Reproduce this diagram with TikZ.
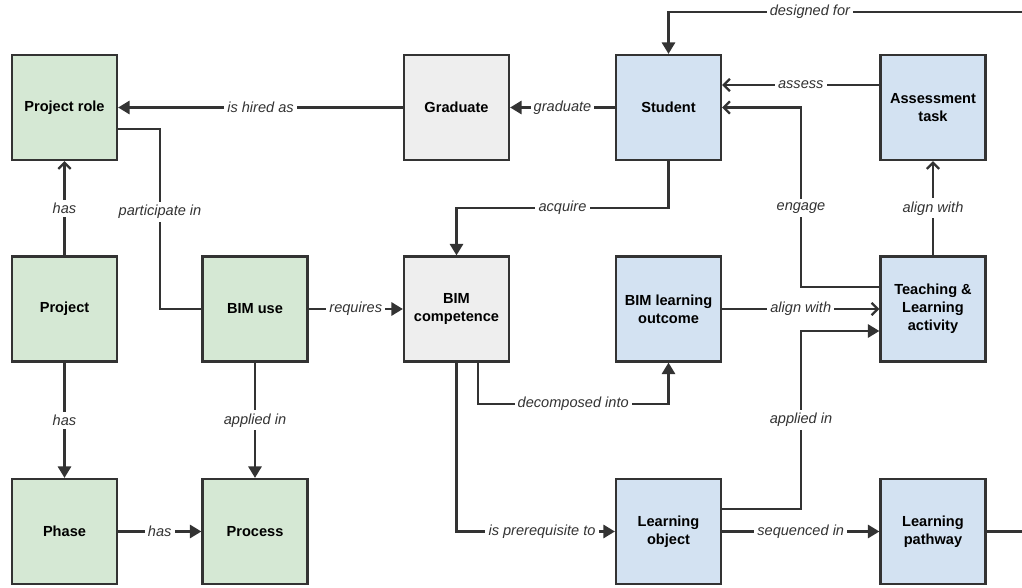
\documentclass[tikz,border=0pt]{standalone}
\usepackage{fontspec}
\setmainfont{Liberation Sans}
\usetikzlibrary{arrows.meta,positioning,calc}
\definecolor{cline}{HTML}{333333}
\definecolor{cgreen}{HTML}{D5E8D4}
\definecolor{cgrey}{HTML}{EEEEEE}
\definecolor{cblue}{HTML}{D3E2F2}

\begin{document}
\begin{tikzpicture}[
    x=0.02cm, y=-0.02cm,
    box/.style = {draw=cline, line width=1.3pt, minimum size=2.1cm, inner sep=0pt,
                  align=center, font=\fontsize{8.3}{10.2}\selectfont\bfseries},
    pg/.style = {box,fill=cgreen},
    pc/.style = {box,fill=cgrey},
    pb/.style = {box,fill=cblue},
    rel/.style = {font=\fontsize{8.3}{10}\selectfont\itshape, text=cline, fill=white, inner sep=1.8pt},
    link/.style = {draw=cline, line width=1.3pt},
    fa/.style = {link,-{Triangle[length=6.5pt,width=7.5pt]}},
    oa/.style = {link,-{Straight Barb[length=3.5pt,width=7pt]}},
    ]
    \useasboundingbox (0,0) rectangle (1022,588);
    % project side
    \node[pg] (role) at (64.5,107.5) {Project role};
    \node[pg] (project) at (64.5,309) {Project};
    \node[pg] (phase) at (64.5,531.5) {Phase};
    \node[pg] (bimuse) at (255,309) {BIM use};
    \node[pg] (process) at (255,531.5) {Process};
    % competence
    \node[pc] (grad) at (456.5,107.5) {Graduate};
    \node[pc] (comp) at (456.5,309) {BIM\\competence};
    % education side
    \node[pb] (student) at (668.5,107.5) {Student};
    \node[pb] (outcome) at (668.5,309) {BIM learning\\outcome};
    \node[pb] (lobj) at (668.5,531.5) {Learning\\object};
    \node[pb] (assess) at (933,107.5) {Assessment\\task};
    \node[pb] (tla) at (933,309) {Teaching \&\\Learning\\activity};
    \node[pb] (pathway) at (933,531.5) {Learning\\pathway};
    \coordinate (top) at (1022,12);
    \coordinate (out) at (1022,531.5);

    \path[fa] (grad) -- node[rel]{is hired as} (role);
    \path[fa] (student) -- node[rel]{graduate} (grad);
    \path[oa] (assess.west |- 0,85) -- node[rel]{assess} (student.east |- 0,85);
    \path[oa] (tla.west |- 0,287) -- (801,287) -- node[rel,pos=0.44]{engage} (801,107.5) -- (student.east);
    \path[oa] (tla) -- node[rel]{align with} (assess);
    \path[fa] (student.south) -- (668.5,208) -| node[rel,pos=0.25]{acquire} (comp.north);
    \path[link] (role.east |- 0,129) -| node[rel,pos=0.73]{participate in} (160,309) -- (bimuse.west);
    \path[oa] (project) -- node[rel]{has} (role);
    \path[fa] (project) -- node[rel]{has} (phase);
    \path[fa] (bimuse) -- node[rel]{applied in} (process);
    \path[fa] (phase) -- node[rel]{has} (process);
    \path[fa] (bimuse) -- node[rel]{requires} (comp);
    \path[fa] (comp.south -| 478,0) |- node[rel,pos=0.75]{decomposed into} (668.5,404) -- (outcome.south);
    \path[fa] (comp.south) |- node[rel,pos=0.77]{is prerequisite to} (lobj.west);
    \path[oa] (outcome) -- node[rel]{align with} (tla);
    \path[fa] (lobj.east |- 0,509) -| node[rel,pos=0.75]{applied in} (801,331) -- (tla.west |- 0,331);
    \path[fa] (lobj) -- node[rel]{sequenced in} (pathway);
    \path[link] (pathway) -- (out);
    \path[fa] (top) -| node[rel,pos=0.3]{designed for} (student.north);
\end{tikzpicture}
\end{document}
